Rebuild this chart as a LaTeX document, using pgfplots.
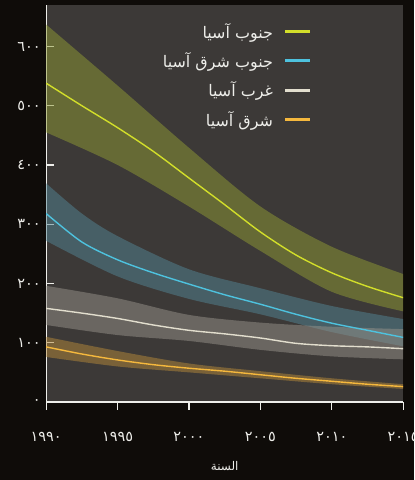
\documentclass[border={-3bp 0pt -16bp 0pt}]{standalone}
\usepackage{fontspec}
\setmainfont{DejaVu Sans}
\newfontfamily\arabicfont[Script=Arabic]{DejaVu Sans}
\TeXXeTstate=1
\usepackage{xcolor}
\usepackage{pgfplots}
\pgfplotsset{compat=1.18}
\usepgfplotslibrary{fillbetween}

\definecolor{outerbg}{HTML}{0F0C09}
\definecolor{plotbg}{HTML}{3C3937}
\definecolor{saline}{HTML}{D2DE2A}
\definecolor{saband}{HTML}{909B34}
\definecolor{sealine}{HTML}{4EC2DE}
\definecolor{seaband}{HTML}{528595}
\definecolor{waline}{HTML}{E2DECE}
\definecolor{waband}{HTML}{98938B}
\definecolor{ealine}{HTML}{F5B83D}
\definecolor{eaband}{HTML}{B68A3A}
\definecolor{txt}{HTML}{EEEEEA}

\begin{document}
\pagecolor{outerbg}
\begin{tikzpicture}
\path (0,0) rectangle (430bp,480bp);
\begin{axis}[
    at={(46bp,78bp)}, anchor=south west,
    scale only axis, width=357bp, height=397bp,
    xmin=1990, xmax=2015, ymin=0, ymax=670,
    axis background/.style={fill=plotbg},
    axis x line*=bottom, axis y line*=left,
    axis line style={txt, line width=1.2bp},
    xtick={1990,1995,2000,2005,2010,2015},
    xticklabels={١٩٩٠,١٩٩٥,٢٠٠٠,٢٠٠٥,٢٠١٠,٢٠١٥},
    ytick={0,100,200,300,400,500,600},
    yticklabels={٠,١٠٠,٢٠٠,٣٠٠,٤٠٠,٥٠٠,٦٠٠},
    xtick align=outside, ytick align=inside,
    major tick length=8bp,
    every tick/.style={txt, line width=1.2bp},
    ticklabel style={font=\fontsize{14.5}{16}\selectfont, text=txt},
    xticklabel style={anchor=center, yshift=-27bp},
    yticklabel style={anchor=east, xshift=-2bp},
    xlabel={\arabicfont\beginR السنة\endR},
    every axis x label/.style={at={(axis description cs:0.5,0)}, anchor=center,
        yshift=-64bp, font=\fontsize{12}{14}\selectfont, text=txt},
    legend style={draw=none, fill=none, text=txt,
        font=\fontsize{16}{18}\selectfont,
        at={(axis description cs:0.745,0.96)}, anchor=north east,
        row sep=9bp, column sep=9bp, inner sep=0pt},
    legend cell align=right,
    legend plot pos=right,
    legend image code/.code={\draw[#1, line width=3bp] (0bp,0bp) -- (25bp,0bp);},
]
% South Asia band
\addplot[name path=saU, draw=none, forget plot, smooth] coordinates {
 (1990,637) (1995,534) (2000,429) (2005,330) (2010,262) (2015,216)};
\addplot[name path=saL, draw=none, forget plot, smooth] coordinates {
 (1990,455) (1995,400) (2000,330) (2005,255) (2010,186) (2015,153)};
\addplot[saband, fill opacity=0.5, forget plot] fill between[of=saU and saL];
% Southeast Asia band
\addplot[name path=seaU, draw=none, forget plot, smooth] coordinates {
 (1990,369) (1992.5,318) (1995,280) (2000,224) (2005,192) (2010,162) (2015,140)};
\addplot[name path=seaL, draw=none, forget plot, smooth] coordinates {
 (1990,272) (1995,212) (2000,174) (2005,148) (2010,118) (2015,94)};
\addplot[seaband, fill opacity=0.5, forget plot] fill between[of=seaU and seaL];
% West Asia band
\addplot[name path=waU, draw=none, forget plot, smooth] coordinates {
 (1990,196) (1995,175) (2000,147) (2005,134) (2010,127) (2015,123)};
\addplot[name path=waL, draw=none, forget plot, smooth] coordinates {
 (1990,130) (1995,113) (2000,103) (2005,88) (2010,77) (2015,72)};
\addplot[waband, fill opacity=0.5, forget plot] fill between[of=waU and waL];
% East Asia band
\addplot[name path=eaU, draw=none, forget plot, smooth] coordinates {
 (1990,110) (1995,86) (2000,65) (2005,52) (2010,40) (2015,30)};
\addplot[name path=eaL, draw=none, forget plot, smooth] coordinates {
 (1990,76) (1995,60) (2000,50) (2005,40) (2010,30) (2015,22)};
\addplot[eaband, fill opacity=0.5, forget plot] fill between[of=eaU and eaL];

% lines
\addplot[saline, line width=1.4bp, smooth] coordinates {
 (1990,538) (1992.5,500) (1995,463) (1997.5,423) (2000,378) (2002.5,333)
 (2005,287) (2007.5,248) (2010,218) (2012.5,195) (2015,176)};
\addlegendentry{\arabicfont\beginR جنوب آسيا\endR}
\addplot[sealine, line width=1.4bp, smooth] coordinates {
 (1990,318) (1992.5,270) (1995,240) (1997.5,218) (2000,199) (2002.5,181)
 (2005,165) (2007.5,148) (2010,133) (2012.5,121) (2015,109)};
\addlegendentry{\arabicfont\beginR جنوب شرق آسيا\endR}
\addplot[waline, line width=1.4bp, smooth] coordinates {
 (1990,158) (1992.5,150) (1995,141) (1997.5,130) (2000,121) (2002.5,115)
 (2005,108) (2007.5,99) (2010,95) (2012.5,93) (2015,90)};
\addlegendentry{\arabicfont\beginR غرب آسيا\endR}
\addplot[ealine, line width=1.4bp, smooth] coordinates {
 (1990,93) (1992.5,81) (1995,71) (1997.5,63) (2000,57) (2002.5,52)
 (2005,46) (2007.5,40) (2010,35) (2012.5,30) (2015,26)};
\addlegendentry{\arabicfont\beginR شرق آسيا\endR}
\end{axis}
\end{tikzpicture}
\end{document}
